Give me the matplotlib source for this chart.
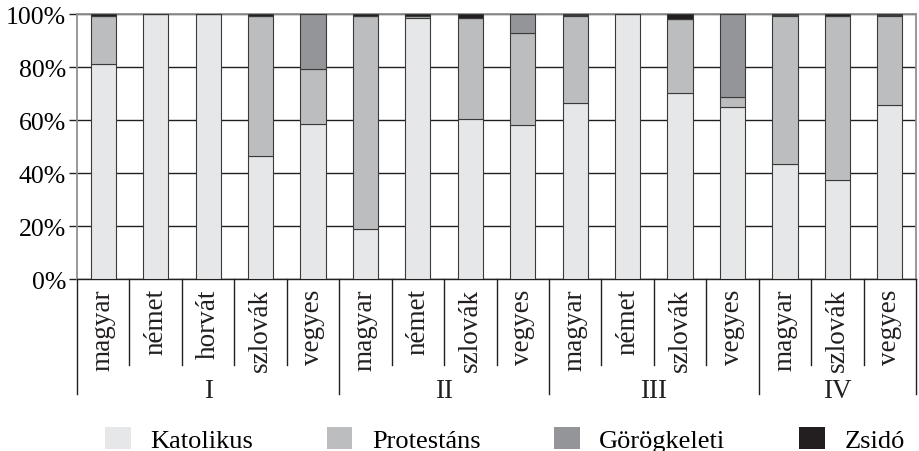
import numpy as np
import matplotlib
matplotlib.use('Agg')
import matplotlib.pyplot as plt
import matplotlib.transforms as mtransforms
from matplotlib.patches import Patch

plt.rcParams['font.family'] = ['Liberation Serif', 'DejaVu Serif']

# categories
groups = ['I', 'II', 'III', 'IV']
group_sizes = [5, 4, 4, 3]
categories = ['magyar', 'német', 'horvát', 'szlovák', 'vegyes',
              'magyar', 'német', 'szlovák', 'vegyes',
              'magyar', 'német', 'szlovák', 'vegyes',
              'magyar', 'szlovák', 'vegyes']

# shares in percent
katolikus   = [81.0, 100.0, 100.0, 46.4, 58.5, 18.9, 98.6, 60.4, 58.1, 66.4, 100.0, 70.2, 64.9, 43.4, 37.5, 65.7]
protestans  = [18.4, 0.0, 0.0, 52.9, 20.7, 80.3, 0.6, 38.1, 34.7, 32.9, 0.0, 27.9, 3.8, 55.9, 61.8, 33.6]
gorogkeleti = [0.0, 0.0, 0.0, 0.0, 20.8, 0.0, 0.0, 0.0, 7.2, 0.2, 0.0, 0.0, 31.3, 0.3, 0.0, 0.3]
zsido       = [0.6, 0.0, 0.0, 0.7, 0.0, 0.8, 0.8, 1.5, 0.0, 0.5, 0.0, 1.9, 0.0, 0.4, 0.7, 0.4]

series = [('Katolikus', katolikus, '#e6e7e8'),
          ('Protestáns', protestans, '#bcbdbf'),
          ('Görögkeleti', gorogkeleti, '#939598'),
          ('Zsidó', zsido, '#231f20')]

fig = plt.figure(figsize=(9.2, 4.52), dpi=100)
ax = fig.add_axes([0.0837, 0.3805, 0.912, 0.5863])

x = np.arange(len(categories))
bottom = np.zeros(len(categories))
for name, vals, col in series:
    vals = np.array(vals)
    ax.bar(x, vals, 0.48, bottom=bottom, color=col, edgecolor='#3a3a3a',
           linewidth=0.8, zorder=3)
    bottom += vals

ax.set_xlim(-0.5, len(categories) - 0.5)
ax.set_ylim(0, 100)
ax.set_yticks(range(0, 101, 20))
ax.set_yticklabels(['%d%%' % v for v in range(0, 101, 20)], fontsize=18.5)
ax.tick_params(axis='y', length=6, width=1, color='#231f20', pad=2)
ax.set_xticks([])
ax.set_axisbelow(True)
ax.yaxis.grid(True, color='#231f20', linewidth=1)

for side in ['left', 'right', 'top']:
    ax.spines[side].set_color('#909090')
    ax.spines[side].set_linewidth(1.3)
ax.spines['bottom'].set_color('#231f20')
ax.spines['bottom'].set_linewidth(1)

trans = mtransforms.blended_transform_factory(ax.transData, ax.transAxes)

# category labels and separators
for i, lab in enumerate(categories):
    ax.text(i, -0.035, lab, rotation=90, ha='center', va='top', fontsize=19.5,
            transform=trans, color='#231f20')

group_edges = np.cumsum([0] + group_sizes) - 0.5
for b in np.arange(-0.5, len(categories)):
    if b in group_edges:
        continue
    ax.plot([b, b], [0, -0.325], transform=trans, color='#231f20',
            linewidth=1, clip_on=False)
for b in group_edges:
    ax.plot([b, b], [0, -0.435], transform=trans, color='#231f20',
            linewidth=1, clip_on=False)
for g, lo, hi in zip(groups, group_edges[:-1], group_edges[1:]):
    ax.text((lo + hi) / 2, -0.42, g, ha='center', va='center', fontsize=19.5,
            transform=trans, color='#231f20')

handles = [Patch(facecolor=col, edgecolor='none', label=name) for name, _, col in series]
fig.legend(handles=handles, loc='center', bbox_to_anchor=(0.549, 0.026), ncol=4,
           frameon=False, fontsize=19, handlelength=0.95, handleheight=0.95,
           handletextpad=0.75, columnspacing=2.8)

fig.savefig('out.png', dpi=100)
